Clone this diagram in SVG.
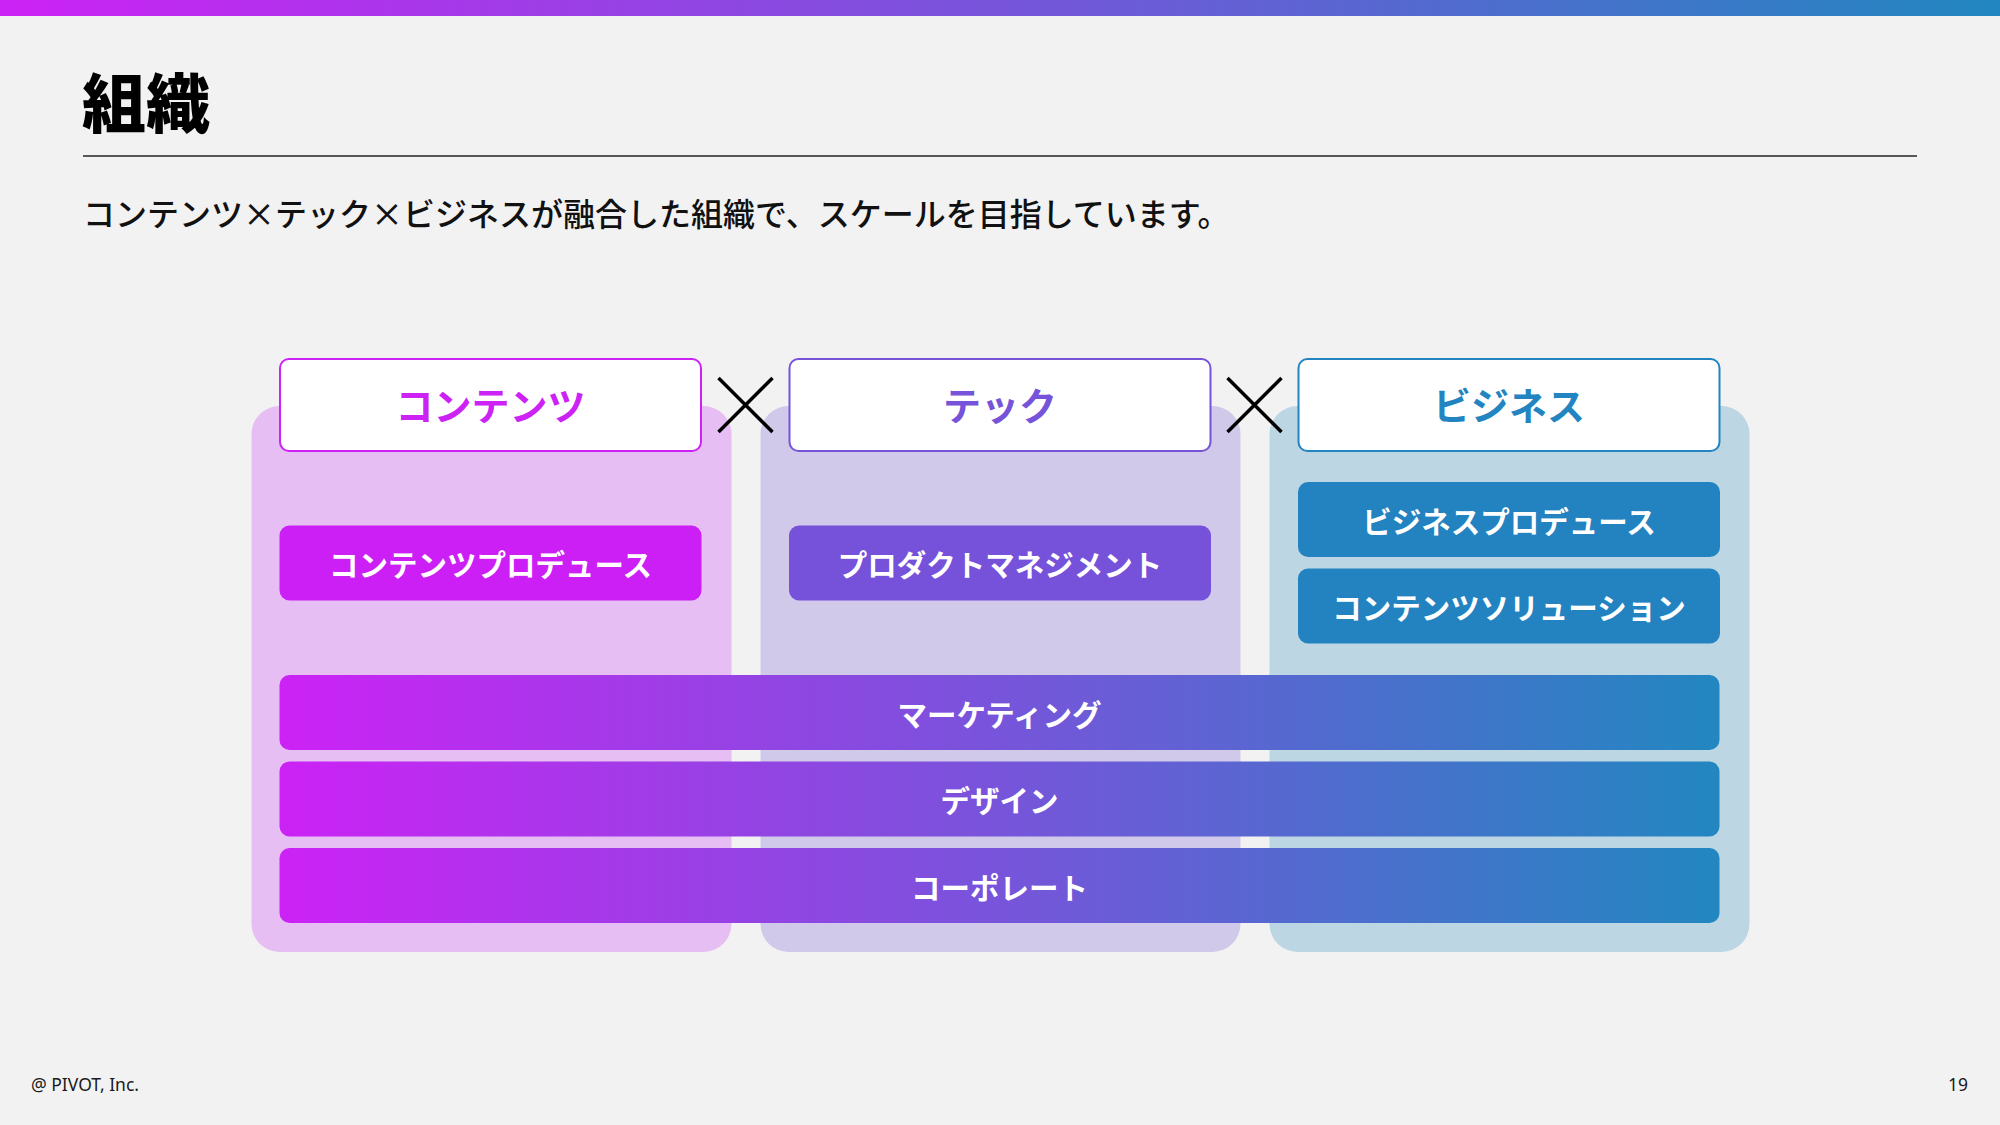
<svg xmlns="http://www.w3.org/2000/svg" width="2000" height="1125" viewBox="0 0 2000 1125">
<defs>
<linearGradient id="grad" x1="0" y1="0" x2="1" y2="0">
<stop offset="0" stop-color="#CC22F5"/>
<stop offset="1" stop-color="#2287C0"/>
</linearGradient>
<style>
.jp{font-family:"Noto Sans CJK JP","Noto Sans",sans-serif;}
.hd{font-size:38px;font-weight:700;text-anchor:middle;dominant-baseline:central;}
.sb{font-size:29.5px;font-weight:700;fill:#FFFFFF;text-anchor:middle;dominant-baseline:central;}
.hbox{fill:#FFFFFF;stroke-width:2;}
.x{stroke:#000000;stroke-width:3.5;fill:none;stroke-linecap:butt;}
.ft{font-family:"Noto Sans","Open Sans",sans-serif;font-size:17.5px;fill:#1A1A1A;}
</style>
</defs>
<rect x="0" y="0" width="2000" height="1125" fill="#F2F2F2"/>
<rect x="0" y="0" width="2000" height="16" fill="url(#grad)"/>
<text class="jp" x="82" y="127" font-size="64" font-weight="900" fill="#000000">組織</text>
<line x1="83" y1="156" x2="1917" y2="156" stroke="#222222" stroke-width="1.5"/>
<text class="jp" x="83" y="226" font-size="32" font-weight="500" fill="#111111">コンテンツ×テック×ビジネスが融合した組織で、スケールを目指しています。</text>

<g id="col-contents">
<rect x="251.5" y="406" width="480" height="546" rx="28" fill="#E6BEF3"/>
</g>
<g id="col-tech">
<rect x="760.5" y="406" width="480" height="546" rx="28" fill="#D0C9EA"/>
</g>
<g id="col-business">
<rect x="1269.5" y="406" width="480" height="546" rx="28" fill="#BCD6E3"/>
</g>

<g id="head-contents">
<rect class="hbox" x="280" y="359" width="421" height="92" rx="9" stroke="#CC22F5"/>
<text class="jp hd" x="490.5" y="403" fill="#CC22F5">コンテンツ</text>
</g>
<g id="head-tech">
<rect class="hbox" x="789.5" y="359" width="421" height="92" rx="9" stroke="#7653D9"/>
<text class="jp hd" x="1000" y="403" fill="#7653D9">テック</text>
</g>
<g id="head-business">
<rect class="hbox" x="1298.5" y="359" width="421" height="92" rx="9" stroke="#2284C0"/>
<text class="jp hd" x="1509" y="403" fill="#2284C0">ビジネス</text>
</g>

<g id="connectors">
<path class="x" d="M718.5 378 L772.5 432 M772.5 378 L718.5 432"/>
<path class="x" d="M1227.5 378 L1281.5 432 M1281.5 378 L1227.5 432"/>
</g>

<g id="contents-produce">
<rect x="279.5" y="525.5" width="422" height="75" rx="10" fill="#CC1FF5"/>
<text class="jp sb" x="490.5" y="563">コンテンツプロデュース</text>
</g>
<g id="product-management">
<rect x="789" y="525.5" width="422" height="75" rx="10" fill="#7651DA"/>
<text class="jp sb" x="1000" y="563">プロダクトマネジメント</text>
</g>
<g id="business-produce">
<rect x="1298" y="482" width="422" height="75" rx="10" fill="#2283C0"/>
<text class="jp sb" x="1509" y="519.5">ビジネスプロデュース</text>
</g>
<g id="contents-solution">
<rect x="1298" y="568.5" width="422" height="75" rx="10" fill="#2283C0"/>
<text class="jp sb" x="1509" y="606">コンテンツソリューション</text>
</g>

<g id="marketing">
<rect x="279.5" y="675" width="1440" height="75" rx="10" fill="url(#grad)"/>
<text class="jp sb" x="999.5" y="712.5">マーケティング</text>
</g>
<g id="design">
<rect x="279.5" y="761.5" width="1440" height="75" rx="10" fill="url(#grad)"/>
<text class="jp sb" x="999.5" y="799">デザイン</text>
</g>
<g id="corporate">
<rect x="279.5" y="848" width="1440" height="75" rx="10" fill="url(#grad)"/>
<text class="jp sb" x="999.5" y="885.5">コーポレート</text>
</g>

<text class="ft" x="31" y="1091">@ PIVOT, Inc.</text>
<text class="ft" x="1968" y="1091" text-anchor="end">19</text>
</svg>
